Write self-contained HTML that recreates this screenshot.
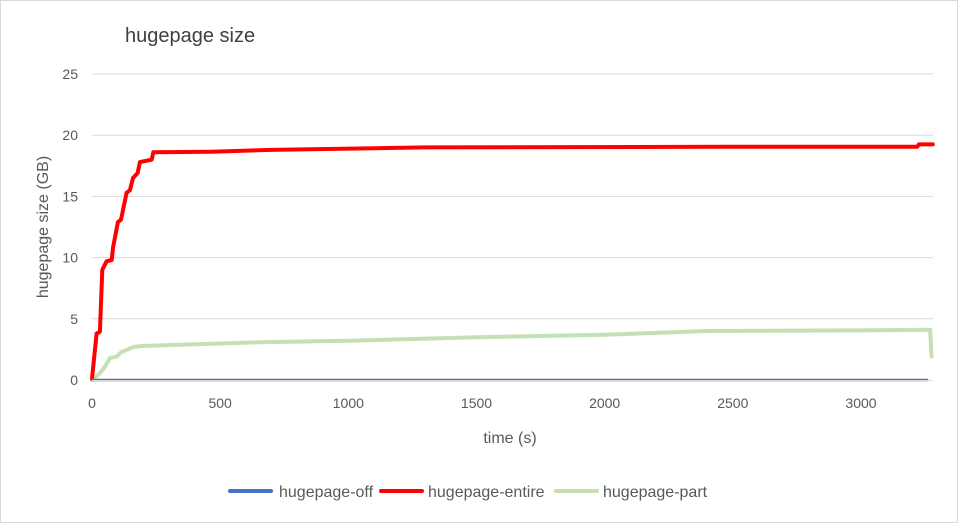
<!DOCTYPE html>
<html><head><meta charset="utf-8"><style>
body{margin:0;background:#fff;}
svg{display:block;font-family:"Liberation Sans",Calibri,sans-serif;}
</style></head><body>
<svg width="958" height="523">
<rect x="0.5" y="0.5" width="957" height="522" fill="#fff" stroke="#d9d9d9"/>
<text x="125" y="42" font-size="20" fill="#404040">hugepage size</text>
<g id="grid"></g><g id="series"></g><g id="axes"></g>
<text x="48" y="227" font-size="16" fill="#595959" text-anchor="middle" transform="rotate(-90 48 227)">hugepage size (GB)</text>
<text x="510" y="443" font-size="16" fill="#595959" text-anchor="middle">time (s)</text>
<g>
<line x1="230" y1="491" x2="271" y2="491" stroke="#4472c4" stroke-width="4" stroke-linecap="round"/>
<text x="279" y="497" font-size="16" fill="#595959">hugepage-off</text>
<line x1="381" y1="491" x2="422" y2="491" stroke="#ff0000" stroke-width="4" stroke-linecap="round"/>
<text x="428" y="497" font-size="16" fill="#595959">hugepage-entire</text>
<line x1="556" y1="491" x2="597" y2="491" stroke="#c5e0b4" stroke-width="4" stroke-linecap="round"/>
<text x="603" y="497" font-size="16" fill="#595959">hugepage-part</text>
</g>
</svg>
<script>
const xTicks=[0,500,1000,1500,2000,2500,3000];
const yTicks=[0,5,10,15,20,25];
const offT=[0,3258];
const offV=[0,0];
const entireT=[0,18,31,40,57,77,82,101,113,135,148,160,178,187,233,239,467,700,1300,2450,3220,3225,3280];
const entireV=[0.1,3.8,3.95,9.0,9.7,9.8,10.8,12.9,13.1,15.3,15.5,16.5,16.9,17.8,18.0,18.6,18.65,18.8,19.0,19.05,19.05,19.25,19.25];
const partT=[0,31,51,70,96,116,135,161,194,675,1000,1500,2000,2400,3000,3270,3275];
const partV=[0,0.55,1.1,1.8,1.9,2.3,2.45,2.7,2.78,3.1,3.2,3.5,3.7,4.0,4.05,4.1,1.9];
const X=t=>92+t*0.25633;
const Y=v=>380-v*12.24;
const NS="http://www.w3.org/2000/svg";
function mk(tag,attrs,parent){const e=document.createElementNS(NS,tag);for(const k in attrs)e.setAttribute(k,attrs[k]);parent.appendChild(e);return e;}
const grid=document.getElementById('grid'),axes=document.getElementById('axes'),series=document.getElementById('series');
yTicks.forEach(v=>{
 if(v>0){const l=mk('line',{x1:92,x2:933,y1:Y(v),y2:Y(v),stroke:'#d9d9d9','stroke-width':1},grid);
 
 }
 const t=mk('text',{x:78,y:Y(v)+5,'font-size':14,fill:'#595959','text-anchor':'end'},axes);
 t.textContent=v;
 
 
});
const ax=mk('line',{x1:92,x2:933,y1:380.5,y2:380.5,stroke:'#d9d9d9','stroke-width':1},axes);


xTicks.forEach(v=>{
 const t=mk('text',{x:X(v),y:408,'font-size':14,fill:'#595959','text-anchor':'middle'},axes);
 t.textContent=v;
 
 
});
function line(T,V,color,w,name){
 const d=T.map((t,i)=>(i?'L':'M')+X(t).toFixed(1)+' '+Y(V[i]).toFixed(1)).join(' ');
 const p=mk('path',{d:d,fill:'none',stroke:color,'stroke-width':w,'stroke-linejoin':'round','stroke-linecap':'round'},series);
 
 
}
line(partT,partV,'#c5e0b4',4,'series-hugepage-part');
line(entireT,entireV,'#ff0000',4,'series-hugepage-entire');
line(offT,offV,'#4472c4',2.5,'series-hugepage-off');
</script>
</body></html>
